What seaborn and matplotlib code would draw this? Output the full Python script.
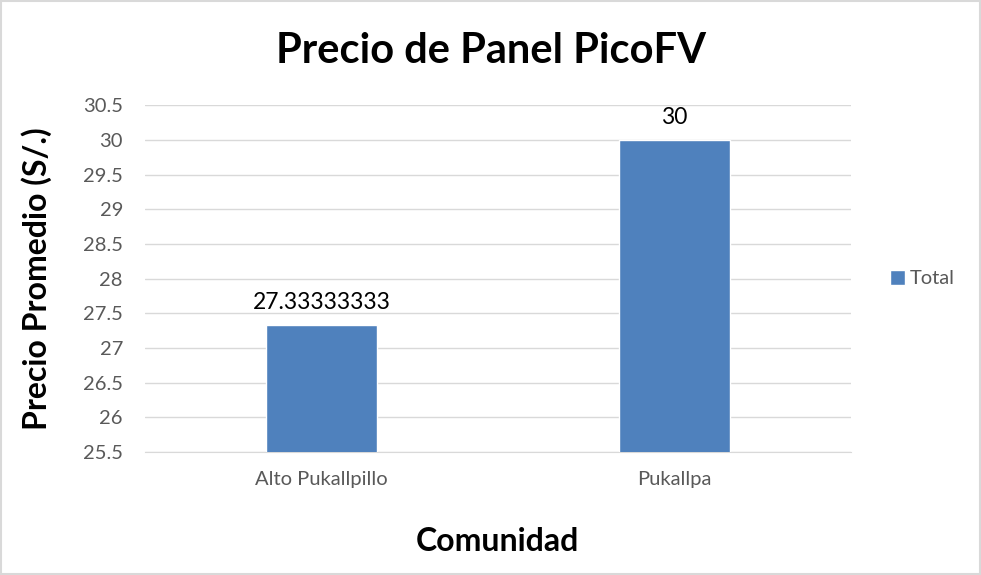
import matplotlib
matplotlib.use("Agg")
import matplotlib.pyplot as plt
import seaborn as sns
import pandas as pd

comunidades = ["Alto Pukallpillo", "Pukallpa"]
precios = [27.33333333, 30]
etiquetas = ["27.33333333", "30"]
yticks = [25.5, 26, 26.5, 27, 27.5, 28, 28.5, 29, 29.5, 30, 30.5]

df = pd.DataFrame({"Comunidad": comunidades, "Precio": precios})

sns.set_style("white")
plt.rcParams["font.family"] = ["Lato", "DejaVu Sans"]

fig = plt.figure(figsize=(9.81, 5.75), dpi=100)
ax = fig.add_axes([0.148, 0.214, 0.719, 0.603])

sns.barplot(data=df, x="Comunidad", y="Precio", color="#4f81bd", width=0.315,
            saturation=1, ax=ax, label="Total", zorder=3)

ax.set_ylim(25.5, 30.5)
ax.set_yticks(yticks)
ax.set_yticklabels([f"{t:g}" for t in yticks])
ax.grid(axis="y", color="#d9d9d9", linewidth=1, zorder=0)
for s in ["left", "right", "top"]:
    ax.spines[s].set_visible(False)
ax.spines["bottom"].set_color("#d9d9d9")
ax.tick_params(axis="both", length=0, labelsize=14.5, colors="#595959")
ax.tick_params(axis="y", pad=16)
ax.tick_params(axis="x", pad=14)

for i, (v, t) in enumerate(zip(precios, etiquetas)):
    ax.text(i, v + 0.17, t, ha="center", va="bottom", fontsize=16.5, color="black")

ax.set_xlabel("Comunidad", fontsize=23, fontweight="bold", color="black", labelpad=28)
ax.set_ylabel("Precio Promedio (S/.)", fontsize=23, fontweight="bold", color="black",
              labelpad=22)
fig.suptitle("Precio de Panel PicoFV", fontsize=30, fontweight="bold", color="black",
             y=0.945)

ax.legend(loc="center left", bbox_to_anchor=(1.03, 0.5), frameon=False,
          fontsize=14.5, handlelength=0.75, handleheight=0.75, handletextpad=0.25,
          labelcolor="#595959")

fig.patches.append(plt.Rectangle((0.001, 0.001), 0.998, 0.998, transform=fig.transFigure,
                                 fill=False, edgecolor="#d9d9d9", linewidth=1.5))

fig.savefig("out.png", dpi=100)
